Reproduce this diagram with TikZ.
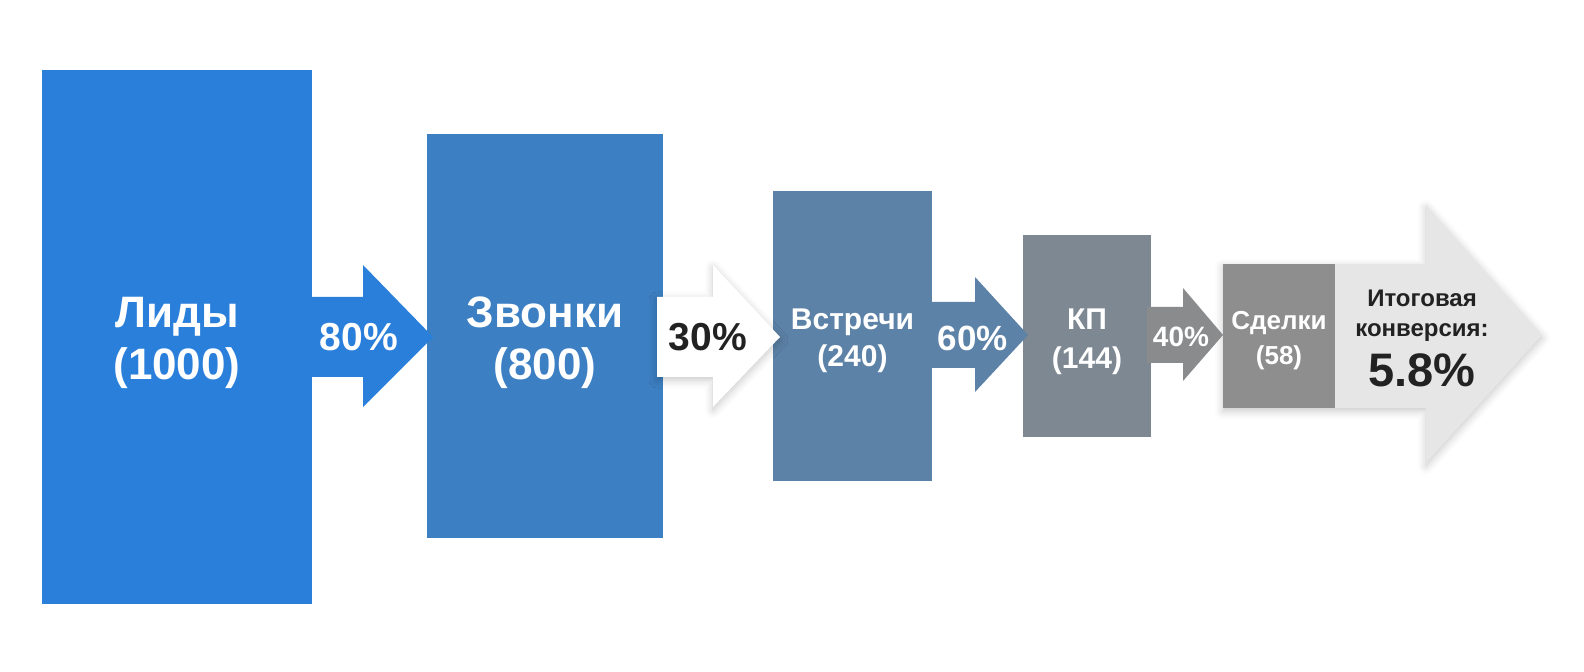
\documentclass[tikz,border=0pt]{standalone}
\usepackage{fontspec}
\setmainfont{Liberation Sans}
\usetikzlibrary{shadows.blur}

\definecolor{lidyblue}{HTML}{2A7FDB}
\definecolor{zvonkiblue}{HTML}{3C80C3}
\definecolor{vstrechiblue}{HTML}{5D82A7}
\definecolor{kpgray}{HTML}{7E8892}
\definecolor{kpgrayarrow}{HTML}{8A8B8D}
\definecolor{sdelkigray}{HTML}{8E8E8E}
\definecolor{itoggray}{HTML}{E6E6E6}
\definecolor{darktext}{HTML}{222222}

\begin{document}
\begin{tikzpicture}[x=0.5pt,y=-0.5pt,
  stage/.style={inner sep=0pt},
  stagetext/.style={inner sep=0pt, align=center, text=white},
  rate/.style={inner sep=0pt, text=white},
  softshadow/.style={blur shadow={shadow xshift=0pt, shadow yshift=-1.5pt,
    shadow blur radius=4pt, shadow opacity=22}}]
\useasboundingbox (0,0) rectangle (1584,672);
% final conversion arrow (behind the last stage)
\fill[itoggray, softshadow] (1223,264) -- (1426,264) -- (1426,205) -- (1542,335)
  -- (1426,463) -- (1426,408) -- (1223,408) -- cycle;
% stages
\node[stage, fill=lidyblue, minimum width=135pt, minimum height=267pt] (lidy) at (177,337) {};
\node[stage, fill=zvonkiblue, minimum width=118pt, minimum height=201.75pt] (zvonki) at (545,336) {};
\node[stage, fill=vstrechiblue, minimum width=79.5pt, minimum height=145.25pt] (vstrechi) at (852.5,336) {};
\node[stage, fill=kpgray, minimum width=64pt, minimum height=100.75pt] (kp) at (1087,336) {};
\node[stage, fill=sdelkigray, minimum width=56pt, minimum height=72pt] (sdelki) at (1279,336) {};
\node[stagetext, font=\bfseries\fontsize{22}{26}\selectfont] (lidy-text)
  at ([yshift=-3pt]lidy.center) {Лиды\\(1000)};
\node[stagetext, font=\bfseries\fontsize{22}{26}\selectfont] (zvonki-text)
  at ([yshift=-3.5pt]zvonki.center) {Звонки\\(800)};
\node[stagetext, font=\bfseries\fontsize{15}{18.5}\selectfont] (vstrechi-text)
  at ([yshift=-2.5pt]vstrechi.center) {Встречи\\(240)};
\node[stagetext, font=\bfseries\fontsize{15}{19.5}\selectfont] (kp-text)
  at ([yshift=-3pt]kp.center) {КП\\(144)};
\node[stagetext, font=\bfseries\fontsize{13}{17.5}\selectfont] (sdelki-text)
  at ([yshift=-2.5pt]sdelki.center) {Сделки\\(58)};
% rate arrows
\fill[lidyblue] (307,297) -- (363,297) -- (363,265) -- (433,337) -- (363,407)
  -- (363,377) -- (307,377) -- cycle;
\fill[white, softshadow] (657,297) -- (713,297) -- (713,265) -- (780,337) -- (713,407)
  -- (713,377) -- (657,377) -- cycle;
\fill[vstrechiblue] (928,302) -- (975,302) -- (975,277) -- (1028,335) -- (975,392)
  -- (975,368) -- (928,368) -- cycle;
\fill[kpgrayarrow] (1147,307) -- (1183,307) -- (1183,288) -- (1223,335) -- (1183,381)
  -- (1183,363) -- (1147,363) -- cycle;
% rates
\node[rate, font=\bfseries\fontsize{19.5}{22}\selectfont] (r80) at (359,337) {80\%};
\node[rate, text=darktext, font=\bfseries\fontsize{19.5}{22}\selectfont] (r30) at (708,337) {30\%};
\node[rate, font=\bfseries\fontsize{17.5}{20}\selectfont] (r60) at (973,338) {60\%};
\node[rate, font=\bfseries\fontsize{14}{16}\selectfont] (r40) at (1181,337) {40\%};
% total
\node[stagetext, text=darktext, font=\bfseries\fontsize{12}{15}\selectfont] (itog) at (1422,316)
  {Итоговая\\конверсия:};
\node[rate, text=darktext, font=\bfseries\fontsize{23.5}{26}\selectfont] (total) at (1422,370) {5.8\%};
\end{tikzpicture}
\end{document}
